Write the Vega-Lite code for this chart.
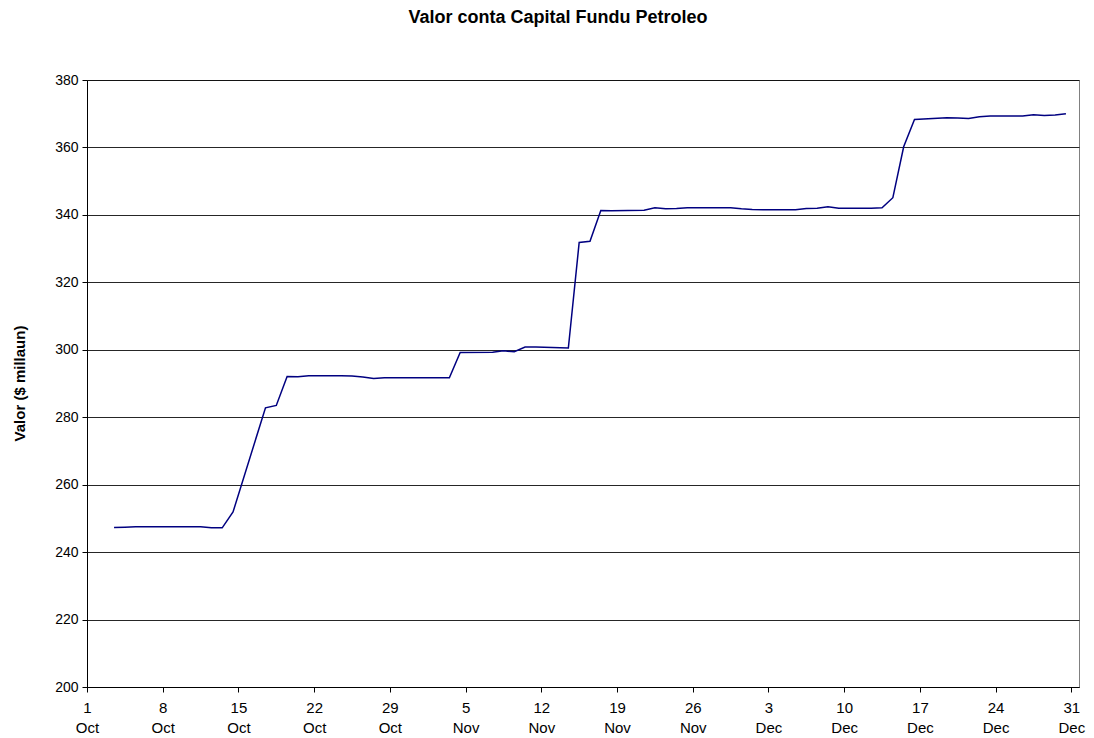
{
  "$schema": "https://vega.github.io/schema/vega-lite/v6.json",
  "autosize": "none",
  "width": 992,
  "height": 607,
  "padding": {"left": 87, "top": 80, "right": 15, "bottom": 51},
  "background": "white",
  "title": {
    "text": "Valor conta Capital Fundu Petroleo",
    "font": "Liberation Sans",
    "fontSize": 18,
    "fontWeight": "bold",
    "color": "black",
    "anchor": "middle",
    "dx": -25,
    "baseline": "alphabetic",
    "offset": 32
  },
  "config": {
    "view": {"stroke": "#808080", "strokeWidth": 1},
    "axis": {"labelFont": "Liberation Sans", "titleFont": "Liberation Sans", "labelColor": "black", "titleColor": "black"}
  },
  "data": {
    "values": [
      {"date": "2005-10-03", "value": 247.3},
      {"date": "2005-10-04", "value": 247.4},
      {"date": "2005-10-05", "value": 247.5},
      {"date": "2005-10-06", "value": 247.5},
      {"date": "2005-10-07", "value": 247.5},
      {"date": "2005-10-10", "value": 247.5},
      {"date": "2005-10-11", "value": 247.5},
      {"date": "2005-10-12", "value": 247.2},
      {"date": "2005-10-13", "value": 247.2},
      {"date": "2005-10-14", "value": 251.9},
      {"date": "2005-10-17", "value": 282.8},
      {"date": "2005-10-18", "value": 283.5},
      {"date": "2005-10-19", "value": 292.1},
      {"date": "2005-10-20", "value": 292.0},
      {"date": "2005-10-21", "value": 292.3},
      {"date": "2005-10-24", "value": 292.3},
      {"date": "2005-10-25", "value": 292.2},
      {"date": "2005-10-26", "value": 291.9},
      {"date": "2005-10-27", "value": 291.5},
      {"date": "2005-10-28", "value": 291.7},
      {"date": "2005-10-31", "value": 291.7},
      {"date": "2005-11-01", "value": 291.7},
      {"date": "2005-11-02", "value": 291.7},
      {"date": "2005-11-03", "value": 291.7},
      {"date": "2005-11-04", "value": 299.2},
      {"date": "2005-11-07", "value": 299.3},
      {"date": "2005-11-08", "value": 299.7},
      {"date": "2005-11-09", "value": 299.4},
      {"date": "2005-11-10", "value": 300.8},
      {"date": "2005-11-11", "value": 300.8},
      {"date": "2005-11-14", "value": 300.5},
      {"date": "2005-11-15", "value": 331.8},
      {"date": "2005-11-16", "value": 332.2},
      {"date": "2005-11-17", "value": 341.3},
      {"date": "2005-11-18", "value": 341.2},
      {"date": "2005-11-21", "value": 341.4},
      {"date": "2005-11-22", "value": 342.1},
      {"date": "2005-11-23", "value": 341.8},
      {"date": "2005-11-24", "value": 341.9},
      {"date": "2005-11-25", "value": 342.1},
      {"date": "2005-11-28", "value": 342.1},
      {"date": "2005-11-29", "value": 342.1},
      {"date": "2005-11-30", "value": 341.8},
      {"date": "2005-12-01", "value": 341.6},
      {"date": "2005-12-02", "value": 341.5},
      {"date": "2005-12-05", "value": 341.5},
      {"date": "2005-12-06", "value": 341.9},
      {"date": "2005-12-07", "value": 341.95},
      {"date": "2005-12-08", "value": 342.4},
      {"date": "2005-12-09", "value": 341.95},
      {"date": "2005-12-12", "value": 342.0},
      {"date": "2005-12-13", "value": 342.1},
      {"date": "2005-12-14", "value": 345.1},
      {"date": "2005-12-15", "value": 360.2},
      {"date": "2005-12-16", "value": 368.3},
      {"date": "2005-12-19", "value": 368.8},
      {"date": "2005-12-20", "value": 368.7},
      {"date": "2005-12-21", "value": 368.6},
      {"date": "2005-12-22", "value": 369.1},
      {"date": "2005-12-23", "value": 369.3},
      {"date": "2005-12-26", "value": 369.3},
      {"date": "2005-12-27", "value": 369.7},
      {"date": "2005-12-28", "value": 369.5},
      {"date": "2005-12-29", "value": 369.6},
      {"date": "2005-12-30", "value": 370.0}
    ]
  },
  "mark": {"type": "line", "color": "#000080", "strokeWidth": 1.5},
  "encoding": {
    "x": {
      "field": "date",
      "type": "temporal",
      "timeUnit": "utcyearmonthdate",
      "bandPosition": 0.5,
      "scale": {
        "domain": [
          {"year": 2005, "month": 10, "date": 1, "utc": true},
          {"year": 2005, "month": 12, "date": 31, "hours": 17, "utc": true}
        ]
      },
      "axis": {
        "title": null,
        "grid": false,
        "values": [
          {"year": 2005, "month": 10, "date": 1, "utc": true},
          {"year": 2005, "month": 10, "date": 8, "utc": true},
          {"year": 2005, "month": 10, "date": 15, "utc": true},
          {"year": 2005, "month": 10, "date": 22, "utc": true},
          {"year": 2005, "month": 10, "date": 29, "utc": true},
          {"year": 2005, "month": 11, "date": 5, "utc": true},
          {"year": 2005, "month": 11, "date": 12, "utc": true},
          {"year": 2005, "month": 11, "date": 19, "utc": true},
          {"year": 2005, "month": 11, "date": 26, "utc": true},
          {"year": 2005, "month": 12, "date": 3, "utc": true},
          {"year": 2005, "month": 12, "date": 10, "utc": true},
          {"year": 2005, "month": 12, "date": 17, "utc": true},
          {"year": 2005, "month": 12, "date": 24, "utc": true},
          {"year": 2005, "month": 12, "date": 31, "utc": true}
        ],
        "labelExpr": "[utcFormat(datum.value, '%-d'), utcFormat(datum.value, '%b')]",
        "labelFontSize": 15,
        "labelLineHeight": 20,
        "labelPadding": 8,
        "labelAlign": "center",
        "labelFlush": false,
        "labelOverlap": false,
        "tickSize": 5,
        "tickColor": "black",
        "domainColor": "black"
      }
    },
    "y": {
      "field": "value",
      "type": "quantitative",
      "scale": {"domain": [200, 380], "nice": false, "zero": false},
      "axis": {
        "title": "Valor ($ millaun)",
        "titleFontSize": 15,
        "titleFontWeight": "bold",
        "titleX": -68,
        "titleY": 303,
        "titleAngle": -90,
        "titleAlign": "center",
        "titleBaseline": "middle",
        "values": [200, 220, 240, 260, 280, 300, 320, 340, 360, 380],
        "labelFontSize": 14,
        "labelPadding": 4,
        "tickSize": 5,
        "tickColor": "black",
        "domainColor": "black",
        "grid": true,
        "gridColor": "black",
        "gridOpacity": 0.85,
        "gridWidth": 1
      }
    }
  }
}
